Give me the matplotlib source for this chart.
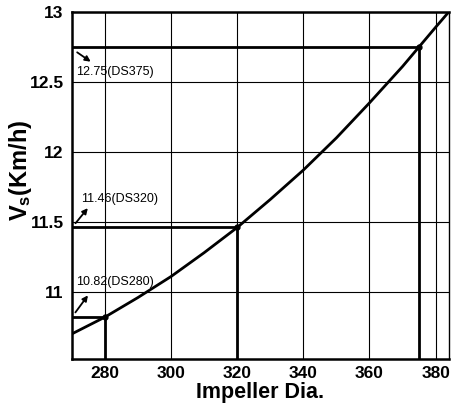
import matplotlib
matplotlib.use("Agg")
import matplotlib.pyplot as plt

plt.rcParams['font.family'] = ['Liberation Sans', 'DejaVu Sans']
plt.rcParams['mathtext.fontset'] = 'custom'
plt.rcParams['mathtext.bf'] = 'Liberation Sans:bold'
plt.rcParams['mathtext.rm'] = 'Liberation Sans'

# Curve
curve_x = [270, 280, 290, 300, 310, 320, 330, 340, 350, 360, 370, 375, 380, 384]
curve_y = [10.70, 10.82, 10.96, 11.11, 11.28, 11.46, 11.66, 11.87, 12.10, 12.35, 12.61, 12.75, 12.89, 13.0]

# Marked designs
design_x = [280, 320, 375]
design_y = [10.82, 11.46, 12.75]
design_labels = ["10.82(DS280)", "11.46(DS320)", "12.75(DS375)"]

x_ticks = [280, 300, 320, 340, 360, 380]
y_ticks = [11, 11.5, 12, 12.5, 13]
y_tick_labels = ["11", "11.5", "12", "12.5", "13"]

fig = plt.figure(figsize=(4.52, 4.09), dpi=100)
ax = fig.add_axes([0.159, 0.122, 0.834, 0.849])
xmin, xmax = 270, 384
ymin, ymax = 10.52, 13.0
ax.set_xlim(xmin, xmax)
ax.set_ylim(ymin, ymax)

for xv in x_ticks:
    ax.axvline(xv, color='black', lw=0.8, zorder=1)
for yv in y_ticks:
    ax.axhline(yv, color='black', lw=0.8, zorder=1)

ax.plot(curve_x, curve_y, color='black', lw=2.0, zorder=3)

for dx, dy in zip(design_x, design_y):
    ax.plot([xmin, dx], [dy, dy], color='black', lw=2.0, zorder=2)
    ax.plot([dx, dx], [ymin, dy], color='black', lw=2.0, zorder=2)
    ax.plot([dx], [dy], 'o', color='black', ms=3.5, zorder=4)

# Annotations
txt_kw = dict(fontsize=9, color='black', ha='left', va='center', zorder=5)
# 12.75
ax.annotate("", xy=(0.056, 0.852), xycoords='axes fraction',
            xytext=(0.008, 0.888), textcoords='axes fraction',
            arrowprops=dict(arrowstyle='-|>', color='black', lw=1.3, mutation_scale=8))
ax.text(0.010, 0.826, design_labels[2], transform=ax.transAxes, **txt_kw)
# 11.46
ax.annotate("", xy=(0.047, 0.441), xycoords='axes fraction',
            xytext=(0.005, 0.385), textcoords='axes fraction',
            arrowprops=dict(arrowstyle='-|>', color='black', lw=1.3, mutation_scale=8))
ax.text(0.025, 0.461, design_labels[1], transform=ax.transAxes, **txt_kw)
# 10.82
ax.annotate("", xy=(0.047, 0.190), xycoords='axes fraction',
            xytext=(0.005, 0.128), textcoords='axes fraction',
            arrowprops=dict(arrowstyle='-|>', color='black', lw=1.3, mutation_scale=8))
ax.text(0.010, 0.222, design_labels[0], transform=ax.transAxes, **txt_kw)

ax.set_xticks(x_ticks)
ax.set_yticks(y_ticks)
ax.set_yticklabels(y_tick_labels)
ax.tick_params(length=0, labelsize=12.5)
ax.tick_params(axis='x', pad=5)
ax.tick_params(axis='y', pad=6)
for lbl in ax.get_xticklabels() + ax.get_yticklabels():
    lbl.set_fontweight('bold')

for side in ['left', 'bottom', 'top']:
    ax.spines[side].set_linewidth(1.8)
ax.spines['right'].set_linewidth(1.0)

ax.set_xlabel("Impeller Dia.", fontsize=15.5, fontweight='bold', labelpad=1)
ax.set_ylabel(r"$\mathbf{V_s}$(Km/h)", fontsize=17, fontweight='bold')
ax.yaxis.set_label_coords(-0.1, 0.545)

fig.savefig("out.png", dpi=100)
